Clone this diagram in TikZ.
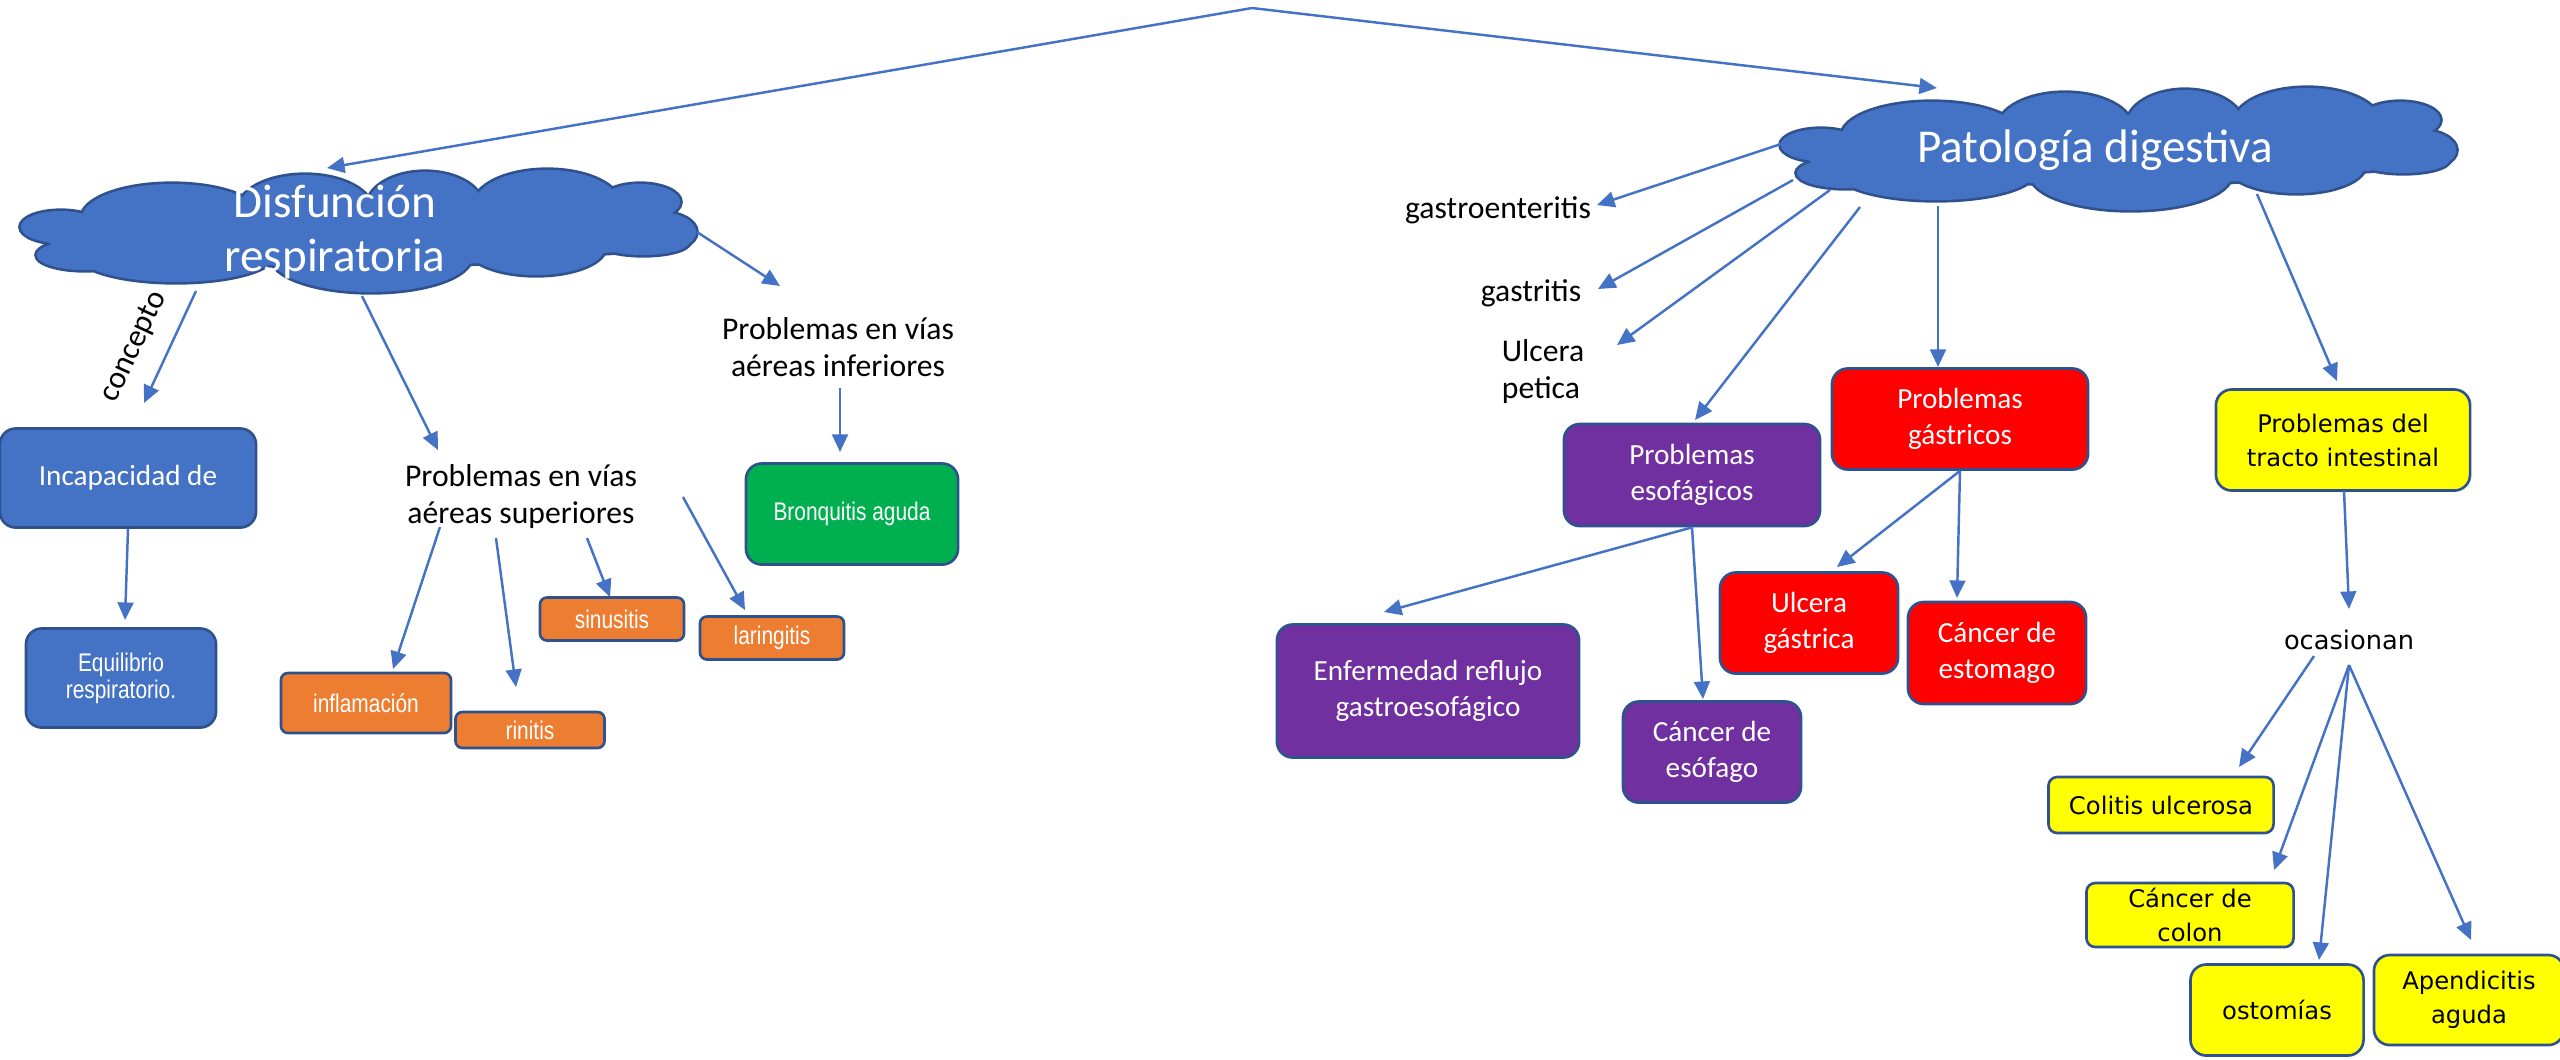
\documentclass[tikz,border=0pt]{standalone}
\usepackage{fontspec}
\setmainfont{Carlito}
\newfontfamily\narrowfont[FakeStretch=0.82]{Liberation Sans}
\newfontfamily\verdfont{DejaVu Sans}
\usetikzlibrary{arrows.meta}

\definecolor{azul}{HTML}{4472C4}
\definecolor{borde}{HTML}{2F528F}
\definecolor{naranja}{HTML}{ED7D31}
\definecolor{verde}{HTML}{00B050}
\definecolor{morado}{HTML}{7030A0}
\definecolor{rojo}{HTML}{FF0000}
\definecolor{amarillo}{HTML}{FFFF00}

\newcommand{\nubefont}{\fontsize{13.4pt}{15.6pt}\selectfont}
\newcommand{\textofont}{\fontsize{9pt}{10.5pt}\selectfont}
\newcommand{\cajafont}{\fontsize{8.3pt}{10.2pt}\selectfont}
\newcommand{\chicafont}{\narrowfont\fontsize{7.25pt}{7.7pt}\selectfont}
\newcommand{\amarfont}{\verdfont\fontsize{6.9pt}{9.7pt}\selectfont}
\newcommand{\ocasfont}{\verdfont\fontsize{7.3pt}{9.7pt}\selectfont}

% puffs of a cloud: x/y offset and radii, in cm
\newcommand{\puffs}{-2.98/0.05/0.40/0.16, -2.74/-0.23/0.48/0.15, -1.87/0.14/0.90/0.34,
  -0.54/0.22/0.67/0.35, 0.66/0.25/0.58/0.35, 1.88/0.27/0.73/0.35, 2.81/0.30/0.40/0.18,
  2.99/0/0.38/0.20, 1.77/-0.15/0.69/0.28, 2.84/-0.10/0.46/0.13, 0.12/-0.25/1.00/0.35,
  -1.83/-0.22/0.99/0.28, 0/0/2.60/0.35, 2.40/0.05/0.62/0.26, -2.60/-0.05/0.52/0.18}
\newcommand{\nube}[2]{%
  \begin{scope}[shift={(#1,#2)}]
    \foreach \cx/\cy/\rx/\ry in \puffs
      \draw[borde, line width=1.5pt] (\cx cm,\cy cm) ellipse [x radius=\rx cm, y radius=\ry cm];
    \foreach \cx/\cy/\rx/\ry in \puffs
      \fill[azul] (\cx cm,\cy cm) ellipse [x radius=\rx cm, y radius=\ry cm];
  \end{scope}}

\tikzset{
  nubetxt/.style={align=center, text=white, font=\nubefont, inner sep=0pt},
  caja/.style={draw=borde, line width=0.75pt, rounded corners=4.5pt, align=center, inner sep=0pt, text=white, font=\cajafont},
  chica/.style={caja, rounded corners=2pt, font=\chicafont},
  amar/.style={caja, fill=amarillo, text=black, font=\amarfont},
  texto/.style={align=center, font=\textofont},
  flecha/.style={line width=0.7pt, -{Triangle[length=5pt,width=4.5pt]}, every edge/.style={draw=azul}}
}

\begin{document}
\begin{tikzpicture}[x=0.01cm, y=-0.01cm]
\useasboundingbox (0,0) rectangle (2560,1059);

\coordinate (top) at (1252,8);

% nubes
\nube{359}{232}
\nube{2119}{150}
\node[nubetxt] (dr) at (335,232) {Disfunción\\respiratoria};
\node[nubetxt] (pd) at (2095,150) {Patología digestiva};

% respiratoria
\node[caja, fill=azul, minimum width=2.56cm, minimum height=0.99cm] (inc) at (128,478) {Incapacidad de};
\node[caja, fill=azul, font=\chicafont, minimum width=1.9cm, minimum height=0.99cm] (equi) at (121,678) {Equilibrio\\respiratorio.};
\node[texto] (supl) at (521,497) {Problemas en vías\\aéreas superiores};
\node[texto] (infl) at (838,347) {Problemas en vías\\aéreas inferiores};
\node[caja, fill=verde, font=\chicafont, minimum width=2.12cm, minimum height=1.01cm] (bron) at (852,514) {Bronquitis aguda};
\node[chica, fill=naranja, minimum width=1.7cm, minimum height=0.6cm] (inflam) at (366,703) {inflamación};
\node[chica, fill=naranja, minimum width=1.49cm, minimum height=0.36cm] (rinitis) at (530,730) {rinitis};
\node[chica, fill=naranja, minimum width=1.44cm, minimum height=0.43cm] (sinus) at (612,619) {sinusitis};
\node[chica, fill=naranja, minimum width=1.44cm, minimum height=0.43cm] (laring) at (772,638) {laringitis};

% digestiva
\node[texto] (gastroent) at (1498,210) {gastroenteritis};
\node[texto] (gastritis) at (1531,293) {gastritis};
\node[texto, align=left] (ulcpet) at (1543,372) {Ulcera\\petica};
\node[caja, fill=morado, minimum width=2.56cm, minimum height=1.02cm] (eso) at (1692,475) {Problemas\\esofágicos};
\node[caja, fill=rojo, minimum width=2.56cm, minimum height=1.01cm] (gas) at (1960,419) {Problemas\\gástricos};
\node[amar, minimum width=2.54cm, minimum height=1.01cm] (intes) at (2343,440) {Problemas del\\tracto intestinal};
\node[caja, fill=morado, minimum width=3.02cm, minimum height=1.33cm] (erge) at (1428,691) {Enfermedad reflujo\\gastroesofágico};
\node[caja, fill=morado, minimum width=1.78cm, minimum height=1.01cm] (canceso) at (1712,752) {Cáncer de\\esófago};
\node[caja, fill=rojo, minimum width=1.78cm, minimum height=1.01cm] (ulcg) at (1809,623) {Ulcera\\gástrica};
\node[caja, fill=rojo, minimum width=1.78cm, minimum height=1.02cm] (cancest) at (1997,653) {Cáncer de\\estomago};
\node[font=\ocasfont] (ocas) at (2349,640) {ocasionan};
\node[amar, rounded corners=2.5pt, minimum width=2.25cm, minimum height=0.56cm] (colitis) at (2161,805) {Colitis ulcerosa};
\node[amar, rounded corners=2.5pt, minimum width=2.07cm, minimum height=0.64cm] (colon) at (2190,915) {Cáncer de\\colon};
\node[amar, minimum width=1.73cm, minimum height=0.91cm] (ostom) at (2277,1010) {ostomías};
\node[amar, minimum width=1.9cm, minimum height=0.9cm] (apend) at (2469,1000) {Apendicitis\\aguda};

\path[flecha] (top) edge ([shift={(-8,-64)}]dr.center)
              (top) edge ([shift={(-158,-62)}]pd.center)
      ([shift={(-139,59)}]dr.center) edge node[sloped, above=2pt, pos=0.62, font=\textofont] (concepto) {concepto} ([shift={(16,-75)}]inc.center)
      ([shift={(27,64)}]dr.center) edge ([shift={(-83,-47)}]supl.center)
      ([shift={(362,0)}]dr.center) edge ([shift={(-58,-61)}]infl.center)
      (inc.south) edge ([shift={(4,-58)}]equi.center)
      ([shift={(2,41)}]infl.center) edge ([shift={(-12,-62)}]bron.center)
      ([shift={(-81,30)}]supl.center) edge ([shift={(27,-34)}]inflam.center)
      ([shift={(-25,41)}]supl.center) edge ([shift={(-14,-43)}]rinitis.center)
      ([shift={(66,41)}]supl.center) edge ([shift={(-2,-22)}]sinus.center)
      ([shift={(162,0)}]supl.center) edge ([shift={(-27,-28)}]laring.center);

\path[flecha] ([shift={(-311,-7)}]pd.center) edge ([shift={(99,-5)}]gastroent.center)
      ([shift={(-302,30)}]pd.center) edge ([shift={(67,-4)}]gastritis.center)
      ([shift={(-265,40)}]pd.center) edge ([shift={(74,-27)}]ulcpet.center)
      ([shift={(-235,57)}]pd.center) edge ([shift={(3,-55)}]eso.center)
      ([shift={(-157,56)}]pd.center) edge ([shift={(-22,-52)}]gas.center)
      ([shift={(162,44)}]pd.center) edge ([shift={(-6,-59)}]intes.center)
      (eso.south) edge ([shift={(-44,-79)}]erge.center)
      (eso.south) edge ([shift={(-9,-53)}]canceso.center)
      (gas.south) edge ([shift={(28,-56)}]ulcg.center)
      (gas.south) edge ([shift={(-40,-55)}]cancest.center)
      ([shift={(1,51)}]intes.center) edge ([shift={(0,-31)}]ocas.center)
      ([shift={(-35,16)}]ocas.center) edge ([shift={(78,-38)}]colitis.center)
      ([shift={(0,25)}]ocas.center) edge ([shift={(84,-45)}]colon.center)
      ([shift={(0,25)}]ocas.center) edge ([shift={(42,-50)}]ostom.center)
      ([shift={(0,25)}]ocas.center) edge ([shift={(2,-60)}]apend.center);

\end{tikzpicture}
\end{document}
